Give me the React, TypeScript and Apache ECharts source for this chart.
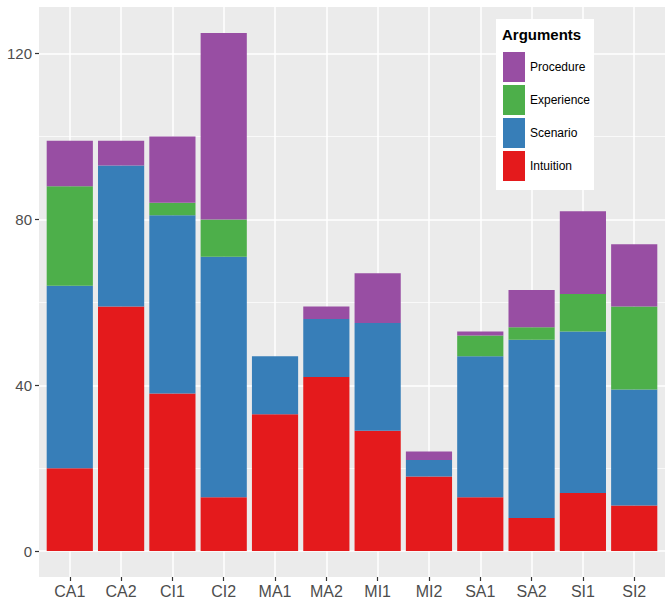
import React, { useEffect, useRef } from "react";
import * as echarts from "echarts";

const categories = ["CA1", "CA2", "CI1", "CI2", "MA1", "MA2", "MI1", "MI2", "SA1", "SA2", "SI1", "SI2"];
const intuition = [20, 59, 38, 13, 33, 42, 29, 18, 13, 8, 14, 11];
const scenario = [44, 34, 43, 58, 14, 14, 26, 4, 34, 43, 39, 28];
const experience = [24, 0, 3, 9, 0, 0, 0, 0, 5, 3, 9, 20];
const procedure = [11, 6, 16, 45, 0, 3, 12, 2, 1, 9, 20, 15];
const majorTicks = [0, 40, 80, 120];
const minorTicks = [20, 60, 100];
const legendOrder = ["Procedure", "Experience", "Scenario", "Intuition"];

const FONT = "'Liberation Sans', Arial, Helvetica, sans-serif";

export default function App() {
  const ref = useRef<HTMLDivElement>(null);
  useEffect(() => {
    if (!ref.current) return;
    const chart = echarts.init(ref.current, undefined, { renderer: "svg" });
    const xIdx = categories.map((_, i) => i);
    const mk = (name: string, vals: number[], color: string) => ({
      name,
      type: "bar",
      stack: "total",
      barWidth: "90%",
      itemStyle: { color },
      // value first so that the stacked dimension is the y value
      data: vals.map((v, i) => [v, i]),
      encode: { x: 1, y: 0 },
      z: 3,
    });
    const series: any[] = [
      mk("Intuition", intuition, "#E41A1C"),
      mk("Scenario", scenario, "#377EB8"),
      mk("Experience", experience, "#4DAF4A"),
      mk("Procedure", procedure, "#984EA3"),
    ];
    chart.setOption({
      animation: false,
      grid: {
        left: 39,
        right: -6,
        top: 7,
        bottom: 29,
        show: true,
        backgroundColor: "#EBEBEB",
        borderWidth: 0,
      },
      xAxis: {
        type: "value",
        min: -0.6,
        max: 11.6,
        position: "bottom",
        axisLine: { show: false, onZero: false },
        axisTick: {
          show: true,
          customValues: xIdx,
          length: 4,
          lineStyle: { color: "#333333", width: 1.2 },
        },
        axisLabel: {
          customValues: xIdx,
          formatter: (v: number) => categories[Math.round(v)] ?? "",
          color: "#4D4D4D",
          fontSize: 16,
          fontFamily: FONT,
          margin: 6,
        },
        splitLine: { show: true, lineStyle: { color: "#FFFFFF", width: 1.5 } },
      },
      yAxis: [
        {
          type: "value",
          min: -6.25,
          max: 131.25,
          position: "left",
          axisLine: { show: false, onZero: false },
          axisTick: {
            show: true,
            customValues: majorTicks,
            length: 4,
            lineStyle: { color: "#333333", width: 1.2 },
          },
          axisLabel: {
            customValues: majorTicks,
            color: "#4D4D4D",
            fontSize: 15,
            fontFamily: FONT,
            margin: 7,
          },
          splitLine: { show: true, lineStyle: { color: "#FFFFFF", width: 1.5 } },
        },
        {
          type: "value",
          min: -6.25,
          max: 131.25,
          position: "left",
          axisLine: { show: false, onZero: false },
          axisTick: { show: false, customValues: minorTicks },
          axisLabel: { show: false, customValues: minorTicks },
          splitLine: { show: true, lineStyle: { color: "#FFFFFF", width: 0.7 } },
        },
      ],
      legend: {
        data: legendOrder,
        orient: "vertical",
        left: 503,
        top: 52,
        padding: 0,
        itemWidth: 22,
        itemHeight: 30,
        itemGap: 3,
        icon: "rect",
        textStyle: { color: "#000000", fontSize: 12, fontFamily: FONT },
        selectedMode: false,
      },
      graphic: [
        {
          type: "rect",
          left: 496,
          top: 19,
          shape: { width: 98, height: 171 },
          style: { fill: "#FFFFFF" },
          z: 4,
        },
        {
          type: "text",
          left: 502,
          top: 27,
          style: {
            text: "Arguments",
            fill: "#000000",
            font: `bold 15px ${FONT}`,
          },
          z: 5,
        },
      ],
      series,
    });
    return () => chart.dispose();
  }, []);
  return (
    <div
      ref={ref}
      style={{ position: "fixed", left: 0, top: 0, width: 665, height: 606, background: "#FFFFFF" }}
    />
  );
}
